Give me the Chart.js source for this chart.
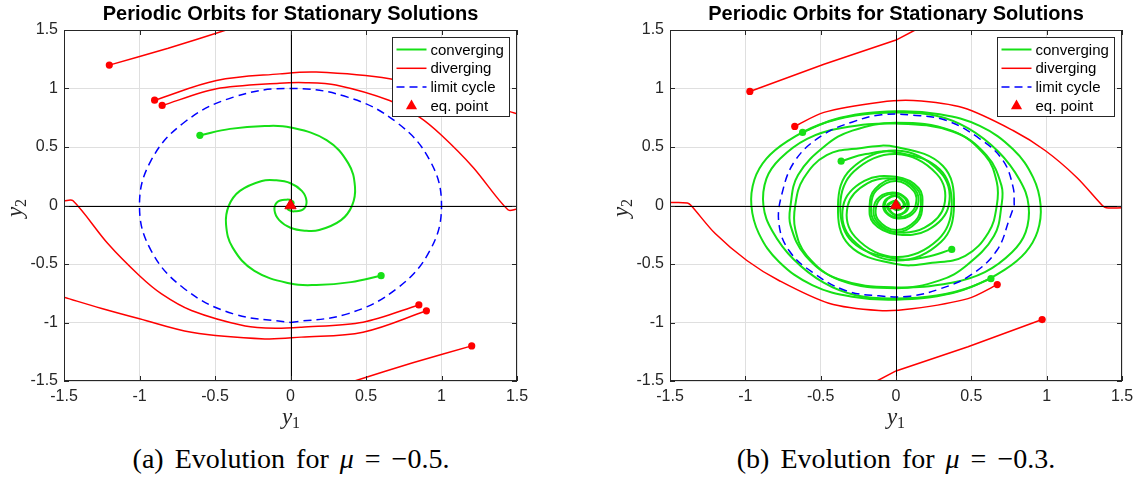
<!DOCTYPE html>
<html>
<head>
<meta charset="utf-8">
<script src="https://cdn.jsdelivr.net/npm/chart.js@4.4.1/dist/chart.umd.min.js"></script>
<style>
  body { margin: 0; background: #fff; width: 1143px; height: 495px; position: relative; overflow: hidden; }
  canvas { position: absolute; top: 0; }
  .title { position: absolute; top: 1px; font: bold 20px "Liberation Sans", Arial, sans-serif; line-height: 24px; text-align: center; color: #000; white-space: nowrap; }
  .xlab { position: absolute; top: 404px; width: 60px; text-align: center; font: italic 23px "Liberation Serif", serif; line-height: 26px; color: #262626; }
  .ylab { position: absolute; width: 60px; text-align: center; font: italic 23px "Liberation Serif", serif; line-height: 26px; color: #262626; transform: rotate(-90deg); }
  .xlab sub, .ylab sub { font-style: normal; font-size: 16px; vertical-align: -4px; }
  .cap { position: absolute; top: 443px; width: 500px; text-align: center; font: 28px "Liberation Serif", serif; word-spacing: 4px; line-height: 32px; color: #000; white-space: nowrap; }
</style>
</head>
<body>
<canvas id="chartA" width="560" height="410" style="left:0px"></canvas>
<canvas id="chartB" width="560" height="410" style="left:606px"></canvas>

<div class="title" style="left:64px;width:453px">Periodic Orbits for Stationary Solutions</div>
<div class="title" style="left:670px;width:452px">Periodic Orbits for Stationary Solutions</div>
<div class="xlab" style="left:261px">y<sub>1</sub></div>
<div class="xlab" style="left:866px">y<sub>1</sub></div>
<div class="ylab" style="left:-12px;top:192px">y<sub>2</sub></div>
<div class="ylab" style="left:594px;top:192px">y<sub>2</sub></div>
<div class="cap" style="left:41px">(a) Evolution for <i>μ</i> = −0.5.</div>
<div class="cap" style="left:646px">(b) Evolution for <i>μ</i> = −0.3.</div>

<script>
// tick labels shared by both panels
const tickLabels = ["-1.5", "-1", "-0.5", "0", "0.5", "1", "1.5"];
const eqPoint = [[0, 0]];

// ---- (a) mu = -0.5 ----
const aLimitCycle = [
    [0, -1], [0.383, -0.924], [0.707, -0.707], [0.924, -0.383], [1, 0], [0.924, 0.383], [0.707, 0.707],
    [0.383, 0.924], [0, 1], [-0.383, 0.924], [-0.707, 0.707], [-0.924, 0.383], [-1, 0],
    [-0.924, -0.383], [-0.707, -0.707], [-0.383, -0.924], [0, -1]
];
const aConv1 = [
    [-0.6, 0.6], [-0.4, 0.655], [-0.171, 0.679], [0, 0.667], [0.239, 0.559], [0.383, 0.36], [0.427, 0.16],
    [0.408, 0], [0.335, -0.125], [0.19, -0.21], [0.094, -0.215], [0, -0.19], [-0.075, -0.125],
    [-0.106, -0.04], [-0.087, 0.03], [-0.027, 0.05], [0.01, 0.04], [0.02, 0.015], [0, 0]
];
const aConv2 = [
    [0.6, -0.6], [0.4, -0.655], [0.171, -0.679], [0, -0.667], [-0.239, -0.559], [-0.383, -0.36], [-0.427, -0.16],
    [-0.408, 0], [-0.335, 0.125], [-0.19, 0.21], [-0.094, 0.215], [0, 0.19], [0.075, 0.125],
    [0.106, 0.04], [0.087, -0.03], [0.027, -0.05], [-0.01, -0.04], [-0.02, -0.015], [0, 0]
];
const aDiv1 = [[-1.2, 1.2], [-0.81, 1.344], [-0.426, 1.5]];
const aDiv2 = [[1.2, -1.2], [0.81, -1.344], [0.424, -1.5]];
const aDiv3 = [[-0.9, 0.9], [-0.49, 1.068], [-0.07, 1.125], [0.17, 1.14], [0.656, 1.083], [1.0, 0.968], [1.25, 0.88], [1.5, 0.784]];
const aDiv4 = [[0.9, -0.9], [0.48, -1.083], [0.07, -1.125], [-0.17, -1.14], [-0.656, -1.083], [-1.0, -0.968], [-1.25, -0.88], [-1.5, -0.784]];
const aDiv5 = [[-0.85, 0.855], [-0.49, 0.997], [-0.073, 1.045], [0.1, 1.05], [0.3, 1.03], [0.656, 0.897], [0.854, 0.755],
    [1.0, 0.6], [1.21, 0.325], [1.44, -0.037], [1.5, -0.03]];
const aDiv6 = [[0.85, -0.85], [0.48, -0.997], [0.073, -1.04], [-0.1, -1.05], [-0.3, -1.03], [-0.656, -0.897], [-0.854, -0.755],
    [-1.0, -0.6], [-1.21, -0.325], [-1.44, 0.04], [-1.5, 0.04]];

// ---- (b) mu = -0.3 ----
const bLimitCycle = [
    [0.785, 0], [0.777, 0.157], [0.71, 0.385], [0.556, 0.57], [0.336, 0.726], [0.115, 0.772], [-0.095, 0.775],
    [-0.293, 0.712], [-0.492, 0.598], [-0.669, 0.385], [-0.757, 0.1], [-0.777, -0.157], [-0.71, -0.385],
    [-0.556, -0.57], [-0.336, -0.726], [-0.115, -0.772], [0.095, -0.775], [0.293, -0.712], [0.492, -0.598],
    [0.669, -0.385], [0.757, -0.1], [0.785, 0]
];
const bConv1 = [
    [-0.62, 0.625], [-0.37, 0.75], [0, 0.805], [0.29, 0.78], [0.556, 0.68], [0.777, 0.48], [0.91, 0.24], [0.96, 0],
    [0.94, -0.22], [0.86, -0.4], [0.72, -0.55], [0.51, -0.69], [0.27, -0.77], [0, -0.795],
    [-0.26, -0.77], [-0.48, -0.66], [-0.68, -0.46], [-0.82, -0.22], [-0.88, 0],
    [-0.86, 0.23], [-0.77, 0.4], [-0.59, 0.57], [-0.37, 0.66], [0, 0.7],
    [0.38, 0.63], [0.6, 0.43], [0.7, 0.17], [0.7, 0], [0.65, -0.26], [0.47, -0.51], [0.29, -0.64], [0, -0.707],
    [-0.37, -0.64], [-0.59, -0.43], [-0.669, -0.2], [-0.669, 0], [-0.614, 0.23], [-0.46, 0.43], [-0.24, 0.49], [0, 0.5],
    [0.31, 0.34], [0.385, 0], [0.3, -0.31], [0, -0.47], [-0.29, -0.29], [-0.35, 0], [-0.21, 0.21], [0, 0.245],
    [0.15, 0.15], [0.175, 0], [0.14, -0.14], [0, -0.23], [-0.13, -0.13], [-0.145, 0], [-0.09, 0.09], [0, 0.11],
    [0.065, 0.065], [0.085, 0], [0.06, -0.06], [0, -0.085], [-0.045, -0.045], [-0.06, 0], [-0.03, 0.03], [0, 0.04],
    [0.02, 0.02], [0.025, 0], [0.012, -0.012], [0, 0]
];
const bConv2 = [
    [0.63, -0.625], [0.37, -0.75], [0, -0.805], [-0.29, -0.78], [-0.556, -0.68], [-0.777, -0.48], [-0.91, -0.24], [-0.96, 0],
    [-0.94, 0.22], [-0.86, 0.4], [-0.72, 0.55], [-0.51, 0.69], [-0.27, 0.77], [0, 0.795],
    [0.26, 0.77], [0.48, 0.66], [0.68, 0.46], [0.82, 0.22], [0.88, 0],
    [0.86, -0.23], [0.77, -0.4], [0.59, -0.57], [0.37, -0.66], [0, -0.7],
    [-0.38, -0.63], [-0.6, -0.43], [-0.7, -0.17], [-0.7, 0], [-0.65, 0.26], [-0.47, 0.51], [-0.29, 0.64], [0, 0.707],
    [0.37, 0.64], [0.59, 0.43], [0.669, 0.2], [0.669, 0], [0.614, -0.23], [0.46, -0.43], [0.24, -0.49], [0, -0.5],
    [-0.31, -0.34], [-0.385, 0], [-0.3, 0.31], [0, 0.47], [0.29, 0.29], [0.35, 0], [0.21, -0.21], [0, -0.245],
    [-0.15, -0.15], [-0.175, 0], [-0.14, 0.14], [0, 0.23], [0.13, 0.13], [0.145, 0], [0.09, -0.09], [0, -0.11],
    [-0.065, -0.065], [-0.085, 0], [-0.06, 0.06], [0, 0.085], [0.045, 0.045], [0.06, 0], [0.03, -0.03], [0, -0.04],
    [-0.02, -0.02], [-0.025, 0], [-0.012, 0.012], [0, 0]
];
const bConv3 = [
    [-0.364, 0.379], [-0.2, 0.44], [0, 0.456], [0.29, 0.31], [0.37, 0], [0.28, -0.29], [0, -0.44],
    [-0.27, -0.27], [-0.32, 0], [-0.19, 0.19], [0, 0.228], [0.14, 0.14], [0.165, 0], [0.13, -0.13], [0, -0.21],
    [-0.12, -0.12], [-0.13, 0], [-0.08, 0.08], [0, 0.1], [0.06, 0.06], [0.075, 0], [0.055, -0.055], [0, -0.08],
    [-0.04, -0.04], [-0.05, 0], [-0.025, 0.025], [0, 0.03], [0.02, 0.015], [0.02, 0], [0, 0]
];
const bConv4 = [
    [0.37, -0.375], [0.2, -0.44], [0, -0.456], [-0.29, -0.31], [-0.37, 0], [-0.28, 0.29], [0, 0.44],
    [0.27, 0.27], [0.32, 0], [0.19, -0.19], [0, -0.228], [-0.14, -0.14], [-0.165, 0], [-0.13, 0.13], [0, 0.21],
    [0.12, 0.12], [0.13, 0], [0.08, -0.08], [0, -0.1], [-0.06, -0.06], [-0.075, 0], [-0.055, 0.055], [0, 0.08],
    [0.04, 0.04], [0.05, 0], [0.025, -0.025], [0, -0.03], [-0.02, -0.015], [-0.02, 0], [0, 0]
];
const bDiv1 = [[-0.97, 0.975], [-0.478, 1.207], [0, 1.414], [0.127, 1.5]];
const bDiv2 = [[0.97, -0.975], [0.478, -1.207], [0, -1.414], [-0.127, -1.5]];
const bDiv3 = [[-0.672, 0.676], [-0.478, 0.796], [-0.106, 0.883], [0.115, 0.897], [0.446, 0.835], [0.777, 0.641],
    [0.99, 0.47], [1.2, 0.24], [1.37, 0.0], [1.395, -0.02], [1.5, -0.02]];
const bDiv4 = [[0.672, -0.676], [0.478, -0.796], [0.106, -0.883], [-0.115, -0.897], [-0.446, -0.835], [-0.777, -0.641],
    [-0.99, -0.47], [-1.2, -0.24], [-1.36, 0.0], [-1.385, 0.022], [-1.5, 0.025]];

const GREEN = "#16e016", RED = "#ff0000", BLUE = "#0000ff";
const toXY = (pts) => pts.map(([x, y]) => ({ x, y }));

function traj(pts, color, width, tension) {
    return {
        data: toXY(pts), showLine: true, borderColor: color, backgroundColor: color,
        borderWidth: width, tension: tension, clip: 0,
        pointRadius: (ctx) => (ctx.dataIndex === 0 ? 3.6 : 0), pointBorderWidth: 0, pointHoverRadius: 0,
    };
}
function cycle(pts) {
    return {
        data: toXY(pts), showLine: true, borderColor: BLUE, borderWidth: 1.5,
        borderDash: [8, 5], tension: 0.4, pointRadius: 0, clip: 0,
    };
}
function eq() {
    return {
        data: toXY(eqPoint), pointStyle: "triangle", pointRadius: 6.5, backgroundColor: RED,
        borderColor: "#e00000", borderWidth: 1, showLine: false,
    };
}

// box, inward ticks, zero axes and legend like the MATLAB figure
const matlabAxes = {
    id: "matlabAxes",
    beforeDatasetDraw(chart, args) {
        if (args.index !== 0) return;
        const { ctx, chartArea: a, scales } = chart;
        const x0 = Math.round(scales.x.getPixelForValue(0)) + 0.5;
        const y0 = Math.round(scales.y.getPixelForValue(0)) + 0.5;
        ctx.save();
        ctx.strokeStyle = "#000";
        ctx.lineWidth = 1;
        ctx.beginPath();
        ctx.moveTo(a.left, y0); ctx.lineTo(a.right, y0);
        ctx.moveTo(x0, a.top); ctx.lineTo(x0, a.bottom);
        ctx.stroke();
        ctx.restore();
    },
    afterDraw(chart) {
        const { ctx, chartArea: a, scales } = chart;
        ctx.save();
        ctx.strokeStyle = "#262626";
        ctx.lineWidth = 1;
        ctx.strokeRect(a.left + 0.5, a.top + 0.5, a.right - a.left - 1, a.bottom - a.top - 1);
        ctx.beginPath();
        scales.x.ticks.forEach((t) => {
            const px = Math.round(scales.x.getPixelForValue(t.value)) + 0.5;
            ctx.moveTo(px, a.bottom); ctx.lineTo(px, a.bottom - 5);
            ctx.moveTo(px, a.top); ctx.lineTo(px, a.top + 5);
        });
        scales.y.ticks.forEach((t) => {
            const py = Math.round(scales.y.getPixelForValue(t.value)) + 0.5;
            ctx.moveTo(a.left, py); ctx.lineTo(a.left + 5, py);
            ctx.moveTo(a.right, py); ctx.lineTo(a.right - 5, py);
        });
        ctx.stroke();

        // legend
        const bx = a.right - 124.5, by = a.top + 7.5, bw = 117, bh = 79;
        ctx.fillStyle = "#fff";
        ctx.fillRect(bx, by, bw, bh);
        ctx.strokeStyle = "#262626";
        ctx.strokeRect(bx, by, bw, bh);
        const rows = [
            { label: "converging", color: GREEN, width: 2, dash: [] },
            { label: "diverging", color: RED, width: 1.5, dash: [] },
            { label: "limit cycle", color: BLUE, width: 1.5, dash: [8, 5] },
            { label: "eq. point", color: RED, marker: true },
        ];
        ctx.font = '15px "Liberation Sans", Arial, sans-serif';
        ctx.textBaseline = "middle";
        rows.forEach((r, i) => {
            const ry = by + 12 + i * 18.8;
            if (r.marker) {
                const cx = bx + 19, cy = ry;
                ctx.fillStyle = RED;
                ctx.beginPath();
                ctx.moveTo(cx, cy - 6.5);
                ctx.lineTo(cx + 5.6, cy + 3.3);
                ctx.lineTo(cx - 5.6, cy + 3.3);
                ctx.closePath();
                ctx.fill();
            } else {
                ctx.strokeStyle = r.color;
                ctx.lineWidth = r.width;
                ctx.setLineDash(r.dash);
                ctx.beginPath();
                ctx.moveTo(bx + 4, ry); ctx.lineTo(bx + 34, ry);
                ctx.stroke();
                ctx.setLineDash([]);
            }
            ctx.fillStyle = "#000";
            ctx.fillText(r.label, bx + 38, ry + 1);
        });
        ctx.restore();
    },
};

function axis(fit) {
    return {
        type: "linear", min: -1.5, max: 1.5,
        ticks: {
            stepSize: 0.5, color: "#262626", padding: 6,
            font: { family: '"Liberation Sans", Arial, sans-serif', size: 16 },
            callback: (v, i) => tickLabels[i],
        },
        grid: { color: "#dfdfdf", lineWidth: 1, drawTicks: false },
        border: { display: false },
        afterFit: fit,
    };
}

function makeChart(id, datasets, padRight) {
    return new Chart(document.getElementById(id), {
        type: "scatter",
        data: { datasets },
        plugins: [matlabAxes],
        options: {
            responsive: false, animation: false, devicePixelRatio: 1,
            layout: { padding: { left: 0, top: 30, right: padRight, bottom: 0 } },
            plugins: { legend: { display: false }, tooltip: { enabled: false } },
            scales: {
                x: axis((s) => { s.height = 29; }),
                y: axis((s) => { s.width = 64; }),
            },
        },
    });
}

makeChart("chartA", [
    eq(),
    traj(aConv1, GREEN, 2, 0.4), traj(aConv2, GREEN, 2, 0.4),
    traj(aDiv1, RED, 1.5, 0.2), traj(aDiv2, RED, 1.5, 0.2),
    traj(aDiv3, RED, 1.5, 0.35), traj(aDiv4, RED, 1.5, 0.35),
    traj(aDiv5, RED, 1.5, 0.3), traj(aDiv6, RED, 1.5, 0.3),
    cycle(aLimitCycle),
], 43);

makeChart("chartB", [
    eq(),
    cycle(bLimitCycle),
    traj(bConv1, GREEN, 2, 0.4), traj(bConv2, GREEN, 2, 0.4),
    traj(bConv3, GREEN, 2, 0.4), traj(bConv4, GREEN, 2, 0.4),
    traj(bDiv1, RED, 1.5, 0), traj(bDiv2, RED, 1.5, 0),
    traj(bDiv3, RED, 1.5, 0.3), traj(bDiv4, RED, 1.5, 0.3),
], 44);
</script>
</body>
</html>
